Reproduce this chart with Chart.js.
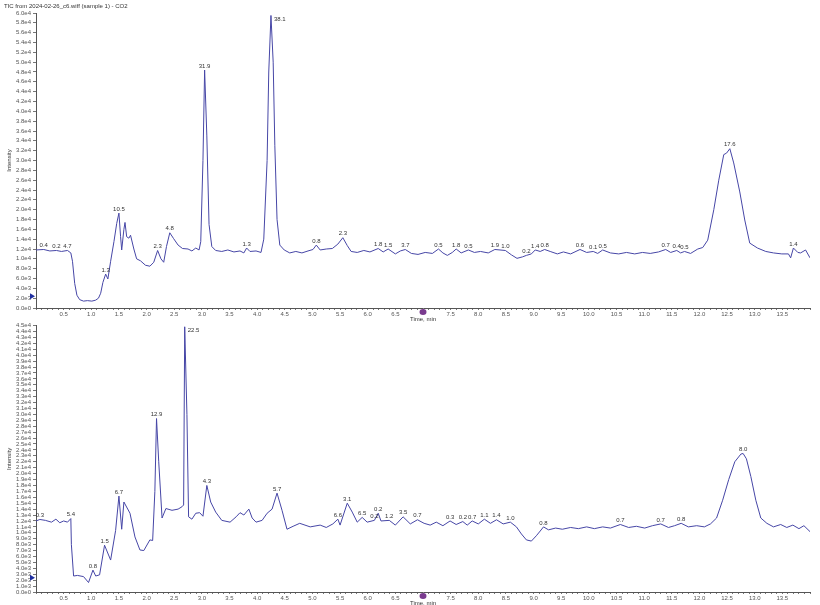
<!DOCTYPE html>
<html lang="en">
<head>
  <meta charset="UTF-8" />
  <title>TIC</title>
  <script src="https://cdn.jsdelivr.net/npm/chart.js"></script>
  <style>
    html, body { margin: 0; padding: 0; background: #fff; }
    body { width: 820px; height: 605px; position: relative; overflow: hidden; }
    .box { position: absolute; left: 0; }
  </style>
</head>
<body>
  <div class="box" style="top:320px"><canvas id="bottomChart" width="820" height="285"></canvas></div>
  <div class="box" style="top:0"><canvas id="topChart" width="820" height="326"></canvas></div>

  <script>
    // Title and axis text
    const titleText = 'TIC from 2024-02-26_c6.wiff (sample 1) - CO2';
    const xTitle = 'Time, min';
    const yTitle = 'Intensity';

    // Upper trace (time in min, intensity in cps)
    const topTime = [0.00,0.14,0.25,0.37,0.46,0.57,0.63,0.66,0.70,0.74,0.79,0.86,0.93,1.01,1.08,1.13,1.17,1.21,1.26,1.30,
      1.35,1.41,1.46,1.50,1.53,1.55,1.59,1.61,1.64,1.68,1.71,1.77,1.82,1.89,1.98,2.06,2.13,2.20,2.26,2.31,
      2.36,2.42,2.49,2.57,2.65,2.75,2.82,2.89,2.95,2.98,3.02,3.05,3.09,3.13,3.18,3.25,3.36,3.47,3.58,3.69,
      3.76,3.81,3.87,3.98,4.07,4.12,4.18,4.21,4.25,4.29,4.32,4.36,4.41,4.49,4.59,4.70,4.81,4.92,5.01,5.07,
      5.14,5.25,5.36,5.46,5.55,5.63,5.70,5.81,5.93,6.04,6.19,6.28,6.37,6.50,6.59,6.68,6.79,6.91,7.04,7.17,
      7.28,7.36,7.44,7.53,7.60,7.69,7.82,7.93,8.04,8.18,8.30,8.49,8.60,8.70,8.80,8.87,8.96,9.03,9.12,9.20,
      9.30,9.43,9.54,9.67,9.84,9.96,10.08,10.16,10.25,10.39,10.54,10.68,10.83,10.97,11.11,11.26,11.39,11.48,11.59,11.66,
      11.73,11.84,11.97,12.06,12.15,12.26,12.35,12.44,12.49,12.55,12.62,12.73,12.82,12.91,13.05,13.20,13.34,13.49,13.61,13.65,
      13.70,13.78,13.83,13.92,14.00];
    const topIntensity = [11800,11900,11600,11700,11500,11700,11200,9500,5000,2600,1700,1400,1500,1400,1600,2000,3000,5200,6900,5900,
      9500,13500,17200,19300,14500,11800,16000,17400,14500,14200,14800,12000,10000,9600,8700,8500,9300,11700,10000,9300,
      12500,15300,14100,12800,12100,12000,11600,12200,11800,13500,30000,48400,35000,17000,12500,11700,11500,11800,11400,11600,
      11200,12200,11500,11600,11300,14000,30000,48000,59500,50000,33000,18000,12800,11800,11200,11500,11200,11600,11900,12800,
      11800,12000,12100,13000,14300,12700,11500,11300,11700,11400,12100,11400,12000,11000,11600,11900,11100,10900,11300,11100,
      12000,11200,10700,11300,12000,11200,11800,11300,11500,11200,11900,11700,10800,10100,10400,10700,11000,11800,11500,11900,
      11500,11000,11400,11000,11900,11300,11500,11100,11800,11200,11000,11300,11000,11300,11100,11400,11900,11300,11700,11200,
      11500,11100,12000,12300,13800,20000,26000,31200,31500,32400,29500,23600,17900,13200,12200,11500,11200,11000,11000,10200,
      12200,11300,11200,11800,10200];
    const topPeakTimes = [0.14,0.37,0.57,1.26,1.50,2.20,2.42,3.05,3.81,4.25,5.07,5.55,6.19,6.37,6.68,7.28,7.60,7.82,8.30,8.49,
      8.87,9.03,9.20,9.84,10.08,10.25,11.39,11.59,11.73,12.55,13.70];
    const topPeakText = ['0.4','0.2','4.7','1.3','10.5','2.3','4.8','31.9','1.3','38.1','0.8','2.3','1.8','1.5','3.7','0.5','1.8','0.5','1.9','1.0',
      '0.2','1.4','0.8','0.6','0.1','0.5','0.7','0.4','0.5','17.6','1.4'];

    // Lower trace
    const bottomTime = [0.00,0.07,0.17,0.28,0.36,0.43,0.50,0.57,0.63,0.64,0.68,0.75,0.86,0.95,1.03,1.08,1.15,1.24,1.35,1.44,
      1.50,1.55,1.59,1.70,1.79,1.88,1.95,2.06,2.11,2.15,2.18,2.22,2.28,2.35,2.46,2.57,2.64,2.67,2.69,2.73,
      2.76,2.82,2.89,2.96,3.02,3.09,3.16,3.25,3.36,3.51,3.62,3.69,3.76,3.85,3.91,3.98,4.09,4.18,4.27,4.36,
      4.45,4.54,4.65,4.77,4.96,5.14,5.25,5.37,5.46,5.50,5.63,5.72,5.81,5.90,5.99,6.12,6.19,6.24,6.39,6.50,
      6.64,6.77,6.90,7.02,7.13,7.24,7.36,7.49,7.60,7.72,7.80,7.89,8.00,8.11,8.22,8.33,8.45,8.58,8.69,8.78,
      8.87,8.96,9.05,9.12,9.18,9.27,9.40,9.52,9.67,9.81,9.96,10.10,10.25,10.39,10.57,10.72,10.86,11.01,11.15,11.30,
      11.44,11.55,11.67,11.80,11.95,12.09,12.20,12.31,12.42,12.53,12.64,12.75,12.79,12.85,12.93,13.02,13.11,13.22,13.34,13.47,
      13.58,13.69,13.80,13.89,14.00];
    const bottomIntensity = [12000,12250,12100,11800,12300,11700,12000,11800,12400,8000,2700,2800,2600,1600,3700,2700,2900,7900,5400,10400,
      16200,10600,15200,13300,9300,7100,7000,8800,8700,17000,29300,22000,12500,14100,13800,14000,14400,14700,44800,30000,
      12700,12300,13300,13400,12800,18000,15200,13500,12100,11800,12700,13400,13000,14000,12500,11800,12100,13300,14000,16700,
      13800,10600,11100,11600,11000,11300,10900,11500,12300,11300,15000,13500,11800,12600,11800,12100,13300,12000,12100,11300,
      12700,11500,12200,11600,11300,11800,11200,12000,11400,11900,11300,12000,11500,12300,11600,12200,11500,11800,11000,9800,
      8800,8600,9500,10300,11000,10500,10800,10600,10900,10700,11000,10700,11000,10800,11400,10900,11100,10800,11200,11500,
      10900,11200,11600,11000,11200,11000,11500,12500,15500,19000,22000,23300,23400,22500,19500,15500,12500,11600,11000,11400,
      10900,11300,10700,11200,10200];
    const bottomPeakTimes = [0.07,0.63,1.03,1.24,1.50,2.18,2.69,3.09,4.36,5.46,5.63,5.90,6.12,6.19,6.39,6.64,6.90,7.49,7.72,7.89,
      8.11,8.33,8.58,9.18,10.57,11.30,11.67,12.79];
    const bottomPeakText = ['0.3','5.4','0.8','1.5','6.7','12.9','22.5','4.3','5.7','6.6','3.1','6.5','0.2','0.2','1.2','3.5','0.7','0.3','0.2','0.7',
      '1.1','1.4','1.0','0.8','0.7','0.7','0.8','8.0'];

    const LINE = '#4646a6';
    const FONT = '6px "Liberation Sans", Arial, sans-serif';

    function expLabel(v) {
      return v.toExponential(1).replace('+', '');
    }

    // draws peak labels, title, marker glyphs
    function decoPlugin(times, peakTimes, peakText, values, showTitle) {
      return {
        id: 'deco',
        afterDatasetsDraw(chart) {
          const ctx = chart.ctx;
          const xs = chart.scales.x, ys = chart.scales.y;
          const area = chart.chartArea;
          ctx.save();
          ctx.font = FONT;
          ctx.fillStyle = '#333';
          ctx.textBaseline = 'bottom';
          peakTimes.forEach((t, i) => {
            const idx = times.indexOf(t);
            if (idx < 0) return;
            const px = xs.getPixelForValue(t);
            const py = ys.getPixelForValue(values[idx]);
            if (py - 8 < area.top) {
              ctx.textAlign = 'left';
              ctx.fillText(peakText[i], px + 3, py + 7);
            } else {
              ctx.textAlign = 'center';
              ctx.fillText(peakText[i], px, py - 1);
            }
          });

          // "Time, min" under the axis
          ctx.textAlign = 'center';
          ctx.textBaseline = 'top';
          ctx.fillText(xTitle, xs.getPixelForValue(7.0), area.bottom + 8);

          // y title
          ctx.save();
          ctx.translate(9, (area.top + area.bottom) / 2);
          ctx.rotate(-Math.PI / 2);
          ctx.textBaseline = 'middle';
          ctx.fillText(yTitle, 0, 0);
          ctx.restore();

          if (showTitle) {
            ctx.textAlign = 'left';
            ctx.textBaseline = 'top';
            ctx.fillText(titleText, 4, 3);
          }

          // purple marker at 7.0 min on the time axis
          const mx = xs.getPixelForValue(7.0);
          ctx.fillStyle = '#7a3b8f';
          ctx.beginPath();
          ctx.ellipse(mx, area.bottom + 4, 3.5, 3, 0, 0, Math.PI * 2);
          ctx.fill();

          // blue arrow on the intensity axis
          const ay = ys.getPixelForValue(2400);
          ctx.fillStyle = '#1f2fa0';
          ctx.beginPath();
          ctx.moveTo(area.left - 1, ay);
          ctx.lineTo(area.left - 6, ay - 3);
          ctx.lineTo(area.left - 6, ay + 3);
          ctx.closePath();
          ctx.fill();
          ctx.restore();
        }
      };
    }

    function makeChart(id, times, values, yMax, yStep, padTop, xHeight, peakTimes, peakText, showTitle) {
      const pts = times.map((t, i) => ({ x: t, y: values[i] }));
      return new Chart(document.getElementById(id), {
        type: 'line',
        data: {
          datasets: [{
            data: pts,
            borderColor: LINE,
            borderWidth: 1,
            pointRadius: 0,
            tension: 0,
            fill: false
          }]
        },
        options: {
          responsive: false,
          animation: false,
          events: [],
          layout: { padding: { top: padTop, right: 10, left: 0, bottom: 0 } },
          plugins: { legend: { display: false }, tooltip: { enabled: false } },
          scales: {
            x: {
              type: 'linear',
              min: 0,
              max: 14,
              border: { display: true, color: '#555', width: 1 },
              grid: { drawOnChartArea: false, drawTicks: true, tickLength: 2, color: '#777' },
              ticks: {
                stepSize: 0.1,
                autoSkip: false,
                maxRotation: 0,
                padding: 1,
                color: '#555',
                font: { size: 6, family: '"Liberation Sans", Arial, sans-serif' },
                callback: (v) => {
                  const r = Math.round(v * 10);
                  if (r === 0 || r === 70 || r >= 140 || r % 5 !== 0) return '';
                  return (r / 10).toFixed(1);
                }
              },
              afterFit: (s) => { s.height = xHeight; }
            },
            y: {
              min: 0,
              max: yMax,
              border: { display: true, color: '#555', width: 1 },
              grid: { drawOnChartArea: false, drawTicks: true, tickLength: 3, color: '#777' },
              ticks: {
                stepSize: yStep,
                autoSkip: false,
                padding: 2,
                color: '#555',
                font: { size: 6, family: '"Liberation Sans", Arial, sans-serif' },
                callback: (v) => expLabel(v)
              },
              afterFit: (s) => { s.width = 36; }
            }
          }
        },
        plugins: [decoPlugin(times, peakTimes, peakText, values, showTitle)]
      });
    }

    makeChart('topChart', topTime, topIntensity, 60000, 2000, 13, 18, topPeakTimes, topPeakText, true);
    makeChart('bottomChart', bottomTime, bottomIntensity, 45000, 1000, 5, 13, bottomPeakTimes, bottomPeakText, false);
  </script>
</body>
</html>
